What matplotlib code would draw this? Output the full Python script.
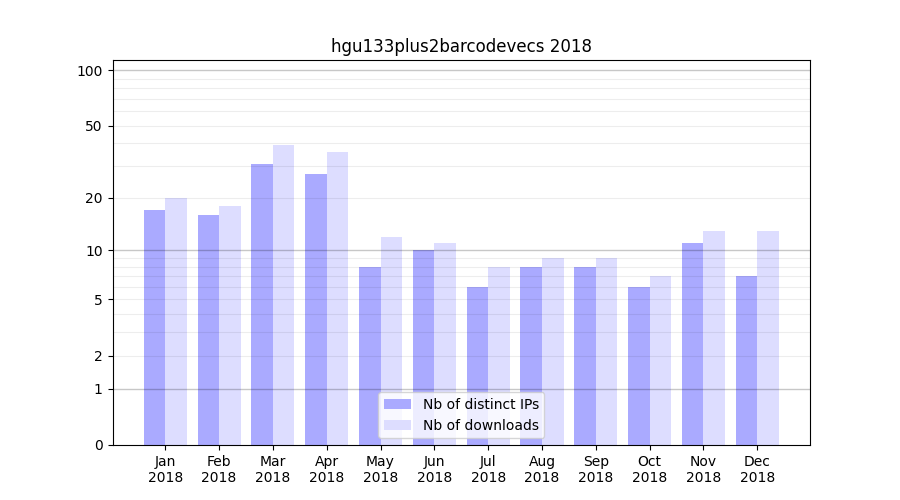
import numpy as np
import matplotlib
matplotlib.use("Agg")
import matplotlib.pyplot as plt

# ── Dados ────────────────────────────────────────────────────────────────────
months = ["Jan", "Feb", "Mar", "Apr", "May", "Jun",
          "Jul", "Aug", "Sep", "Oct", "Nov", "Dec"]
year = "2018"
nb_ips = [17, 16, 31, 27, 8, 10, 6, 8, 8, 6, 11, 7]
nb_downloads = [20, 18, 39, 36, 12, 11, 8, 9, 9, 7, 13, 13]

y_ticks = [0, 1, 2, 5, 10, 20, 50, 100]
dark_lines = [1, 10, 100]
light_lines = [2, 3, 4, 5, 6, 7, 8, 9, 20, 30, 40, 50, 60, 70, 80, 90]


def fwd(y):
    return np.log10(1 + np.clip(y, 0, None))


def inv(y):
    return 10 ** y - 1


# ── Gráfico ──────────────────────────────────────────────────────────────────
fig, ax = plt.subplots(figsize=(9, 5), dpi=100)
x = np.arange(len(months))
w = 0.4

ax.bar(x - w / 2, nb_ips, width=w, color="#aaaaff", label="Nb of distinct IPs", zorder=2)
ax.bar(x + w / 2, nb_downloads, width=w, color="#ddddff", label="Nb of downloads", zorder=2)

ax.set_yscale("function", functions=(fwd, inv))
ax.set_ylim(0, 113.5)
ax.set_xlim(-0.98, 11.98)

ax.set_yticks(y_ticks)
ax.set_yticklabels([str(v) for v in y_ticks])
ax.yaxis.set_minor_locator(matplotlib.ticker.NullLocator())

# grade por cima das barras, semi-transparente
for v in light_lines:
    ax.axhline(v, color="black", alpha=0.07, linewidth=0.8, zorder=3)
for v in dark_lines:
    ax.axhline(v, color="black", alpha=0.22, linewidth=1, zorder=3)

ax.set_xticks(x)
ax.set_xticklabels([f"{m}\n{year}" for m in months])

ax.set_title("hgu133plus2barcodevecs 2018")
ax.legend(loc="lower center")

plt.savefig("out.png", dpi=100)
